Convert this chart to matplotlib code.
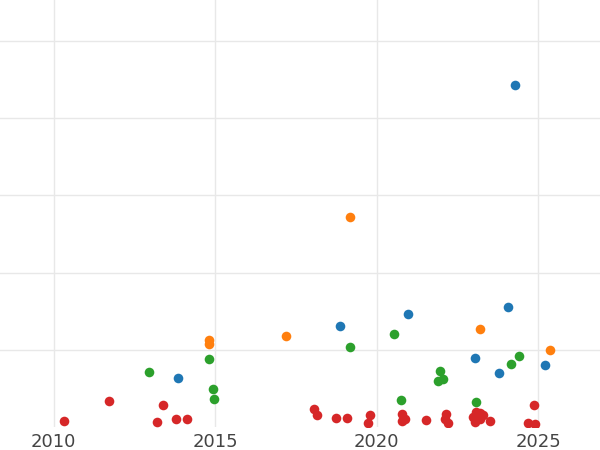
import matplotlib.pyplot as plt

# values (year, value), grouped by colour
blue_x = [2024.28, 2018.87, 2020.96, 2013.85, 2024.05, 2023.05, 2023.77, 2025.22]
blue_y = [4.43, 1.31, 1.46, 0.64, 1.56, 0.90, 0.70, 0.80]

orange_x = [2019.17, 2014.82, 2014.82, 2017.19, 2023.19, 2025.35]
orange_y = [2.72, 1.13, 1.07, 1.18, 1.27, 1.00]

green_x = [2014.82, 2012.95, 2014.94, 2014.95, 2019.17, 2020.53, 2021.95,
           2022.04, 2021.89, 2020.74, 2023.08, 2024.39, 2024.14]
green_y = [0.88, 0.71, 0.49, 0.36, 1.03, 1.20, 0.73, 0.62, 0.59, 0.35,
           0.32, 0.92, 0.81]

red_x = [2010.32, 2011.70, 2013.40, 2013.19, 2013.79, 2014.12, 2018.06,
         2018.14, 2018.75, 2019.09, 2019.78, 2019.73, 2020.79, 2020.87,
         2020.78, 2021.54, 2022.13, 2022.11, 2022.21, 2023.06, 2023.19,
         2023.30, 2022.99, 2023.05, 2023.50, 2023.19, 2024.86, 2024.69,
         2024.89]
red_y = [0.08, 0.34, 0.28, 0.06, 0.10, 0.10, 0.23, 0.15, 0.12, 0.12, 0.16,
         0.05, 0.17, 0.10, 0.08, 0.09, 0.17, 0.11, 0.05, 0.20, 0.18, 0.15,
         0.13, 0.07, 0.08, 0.11, 0.29, 0.05, 0.04]

xticks = [2010, 2015, 2020, 2025]

fig = plt.figure(figsize=(6, 4.5), dpi=100)
ax = fig.add_axes([0, 23 / 450, 1, 427 / 450])

for xs, ys, c in [(blue_x, blue_y, '#1f77b4'),
                  (orange_x, orange_y, '#ff7f0e'),
                  (green_x, green_y, '#2ca02c'),
                  (red_x, red_y, '#d62728')]:
    ax.scatter(xs, ys, s=48, color=c, linewidths=0, zorder=3)

ax.set_xlim(2008.34, 2026.91)
ax.set_ylim(0, 5.53)
ax.set_xticks(xticks)
ax.set_xticklabels([str(t) for t in xticks])
ax.set_yticks([1, 2, 3, 4, 5])
ax.set_yticklabels([])
ax.grid(True, color='#e8e8e8', linewidth=1.0)
ax.set_axisbelow(True)
ax.tick_params(axis='both', length=0)
ax.tick_params(axis='x', pad=4, labelsize=13, labelcolor='#444444')
for spine in ax.spines.values():
    spine.set_visible(False)

fig.savefig('out.png', dpi=100)
